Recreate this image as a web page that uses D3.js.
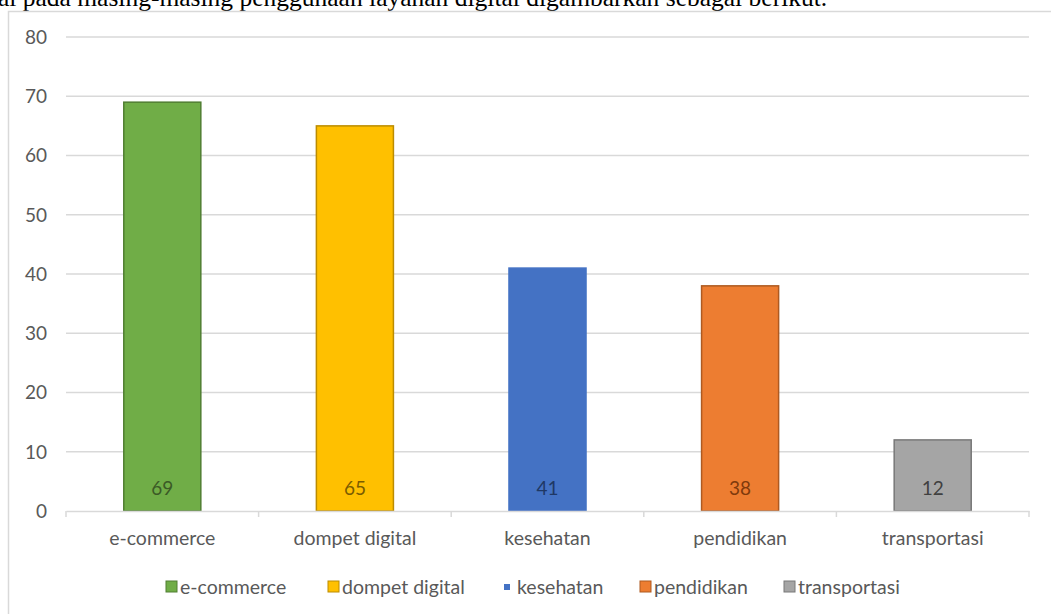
<!DOCTYPE html>
<html>
<head>
<meta charset="utf-8">
<script src="https://cdn.jsdelivr.net/npm/d3@7"></script>
<style>
  body { margin: 0; background: #fff; overflow: hidden; }
  svg { display: block; }
</style>
</head>
<body>
<script>
// data
var categories = ["e-commerce", "dompet digital", "kesehatan", "pendidikan", "transportasi"];
var values = [69, 65, 41, 38, 12];
var yTicks = [0, 10, 20, 30, 40, 50, 60, 70, 80];
var fills = ["#70ad47", "#ffc000", "#4472c4", "#ed7d31", "#a5a5a5"];
var strokes = ["#507e32", "#bc8c00", "#4472c4", "#ae5a21", "#787878"];
var labelColors = ["#3b5a26", "#7a5c00", "#1f3864", "#7f3a0c", "#404040"];
var legendX = [166, 328, 501, 640, 784];

var w = 1051, h = 614;
var font = "Lato, 'Open Sans', sans-serif";

var svg = d3.select("body").append("svg")
  .attr("width", w)
  .attr("height", h);

// cut off line of document text above the chart
svg.append("text")
  .attr("x", -2)
  .attr("y", 6)
  .attr("font-family", "'Liberation Serif', 'DejaVu Serif', serif")
  .attr("font-size", 25.5)
  .attr("fill", "#000")
  .text("al pada masing-masing penggunaan layanan digital digambarkan sebagai berikut.");

// chart frame
svg.append("rect")
  .attr("x", 8.5).attr("y", 11.5)
  .attr("width", w + 10).attr("height", h + 10)
  .attr("fill", "#fff")
  .attr("stroke", "#d9d9d9")
  .attr("stroke-width", 1.5);

var x = d3.scaleBand().domain(categories).range([66, 1029]);
var y = d3.scaleLinear().domain([0, 80]).range([511, 37]);
var barW = x.bandwidth() * 0.4;

// gridlines
svg.append("g").selectAll("line")
  .data(yTicks.filter(function(d) { return d > 0; }))
  .enter().append("line")
  .attr("x1", 66).attr("x2", 1029)
  .attr("y1", function(d) { return y(d); })
  .attr("y2", function(d) { return y(d); })
  .attr("stroke", "#d9d9d9")
  .attr("stroke-width", 1.5);

// y labels
svg.append("g").selectAll("text")
  .data(yTicks)
  .enter().append("text")
  .attr("x", 47)
  .attr("y", function(d) { return y(d); })
  .attr("dy", "0.36em")
  .attr("text-anchor", "end")
  .attr("font-family", font)
  .attr("font-size", 19)
  .attr("fill", "#595959")
  .text(function(d) { return d; });

// bars
svg.append("g").selectAll("rect")
  .data(values)
  .enter().append("rect")
  .attr("x", function(d, i) { return x(categories[i]) + (x.bandwidth() - barW) / 2; })
  .attr("y", function(d) { return y(d); })
  .attr("width", barW)
  .attr("height", function(d) { return y(0) - y(d); })
  .attr("fill", function(d, i) { return fills[i]; })
  .attr("stroke", function(d, i) { return strokes[i]; })
  .attr("stroke-width", 1.5);

// value labels inside bars
svg.append("g").selectAll("text")
  .data(values)
  .enter().append("text")
  .attr("x", function(d, i) { return x(categories[i]) + x.bandwidth() / 2; })
  .attr("y", 488)
  .attr("dy", "0.36em")
  .attr("text-anchor", "middle")
  .attr("font-family", font)
  .attr("font-size", 19)
  .attr("fill", function(d, i) { return labelColors[i]; })
  .text(function(d) { return d; });

// x axis
var xAxis = svg.append("g")
  .attr("transform", "translate(0,511)")
  .call(d3.axisBottom(x).tickSize(0).tickPadding(20));
xAxis.select(".domain").attr("stroke", "#d9d9d9").attr("stroke-width", 1.5);
xAxis.selectAll("text")
  .attr("font-family", font)
  .attr("font-size", 19.5)
  .attr("fill", "#595959");

// tick marks on band edges
var edges = categories.map(function(c) { return x(c); }).concat([1029]);
xAxis.selectAll(".edge")
  .data(edges)
  .enter().append("line")
  .attr("x1", function(d) { return d; })
  .attr("x2", function(d) { return d; })
  .attr("y1", 0).attr("y2", 6)
  .attr("stroke", "#d9d9d9")
  .attr("stroke-width", 1.5);

// legend
var leg = svg.append("g").selectAll("g")
  .data(categories)
  .enter().append("g")
  .attr("transform", function(d, i) { return "translate(" + legendX[i] + ",587)"; });
leg.append("rect")
  .attr("x", function(d, i) { return i == 2 ? 3 : 0; })
  .attr("y", function(d, i) { return i == 2 ? -3 : -6; })
  .attr("width", function(d, i) { return i == 2 ? 6 : 11; })
  .attr("height", function(d, i) { return i == 2 ? 6 : 11; })
  .attr("fill", function(d, i) { return fills[i]; })
  .attr("stroke", function(d, i) { return i == 2 ? "none" : strokes[i]; })
  .attr("stroke-width", 1);
leg.append("text")
  .attr("x", function(d, i) { return i == 2 ? 16 : 14; })
  .attr("dy", "0.36em")
  .attr("font-family", font)
  .attr("font-size", 19.5)
  .attr("fill", "#595959")
  .text(function(d) { return d; });
</script>
</body>
</html>
